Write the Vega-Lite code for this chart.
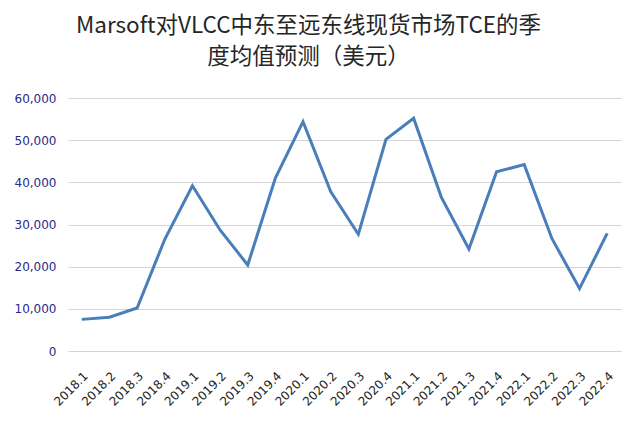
{
  "$schema": "https://vega.github.io/schema/vega-lite/v6.json",
  "width": 553,
  "height": 253,
  "autosize": "none",
  "padding": {"left": 68, "top": 98, "right": 19, "bottom": 72},
  "background": "white",
  "title": {
    "text": ["Marsoft对VLCC中东至远东线现货市场TCE的季", "度均值预测（美元）"],
    "font": "Noto Sans CJK SC",
    "fontSize": 22.5,
    "fontWeight": "normal",
    "color": "#262626",
    "anchor": "middle",
    "dx": -36,
    "offset": 24,
    "lineHeight": 31
  },
  "data": {
    "values": [
      {"quarter": "2018.1", "tce": 7500},
      {"quarter": "2018.2", "tce": 8000},
      {"quarter": "2018.3", "tce": 10200},
      {"quarter": "2018.4", "tce": 26500},
      {"quarter": "2019.1", "tce": 39200},
      {"quarter": "2019.2", "tce": 28700},
      {"quarter": "2019.3", "tce": 20400},
      {"quarter": "2019.4", "tce": 41000},
      {"quarter": "2020.1", "tce": 54400},
      {"quarter": "2020.2", "tce": 37800},
      {"quarter": "2020.3", "tce": 27700},
      {"quarter": "2020.4", "tce": 50200},
      {"quarter": "2021.1", "tce": 55200},
      {"quarter": "2021.2", "tce": 36500},
      {"quarter": "2021.3", "tce": 24200},
      {"quarter": "2021.4", "tce": 42500},
      {"quarter": "2022.1", "tce": 44200},
      {"quarter": "2022.2", "tce": 26700},
      {"quarter": "2022.3", "tce": 14800},
      {"quarter": "2022.4", "tce": 27900}
    ]
  },
  "mark": {"type": "line", "color": "#4a7ebb", "strokeWidth": 3, "strokeJoin": "miter"},
  "encoding": {
    "x": {
      "field": "quarter",
      "type": "ordinal",
      "sort": null,
      "scale": {"type": "point", "padding": 0.5},
      "axis": {
        "title": null,
        "labelAngle": -45,
        "labelFont": "DejaVu Sans",
        "labelFontSize": 12,
        "labelColor": "#222222",
        "labelPadding": 19,
        "ticks": false,
        "domain": false,
        "grid": false
      }
    },
    "y": {
      "field": "tce",
      "type": "quantitative",
      "scale": {"domain": [0, 60000], "nice": false},
      "axis": {
        "title": null,
        "values": [0, 10000, 20000, 30000, 40000, 50000, 60000],
        "format": ",d",
        "labelFont": "DejaVu Sans",
        "labelFontSize": 12,
        "labelColor": "#2a2a8a",
        "labelPadding": 12,
        "ticks": false,
        "domain": false,
        "grid": true,
        "gridColor": "#d4d4d4",
        "gridWidth": 1.2
      }
    }
  },
  "config": {"view": {"stroke": null}}
}
